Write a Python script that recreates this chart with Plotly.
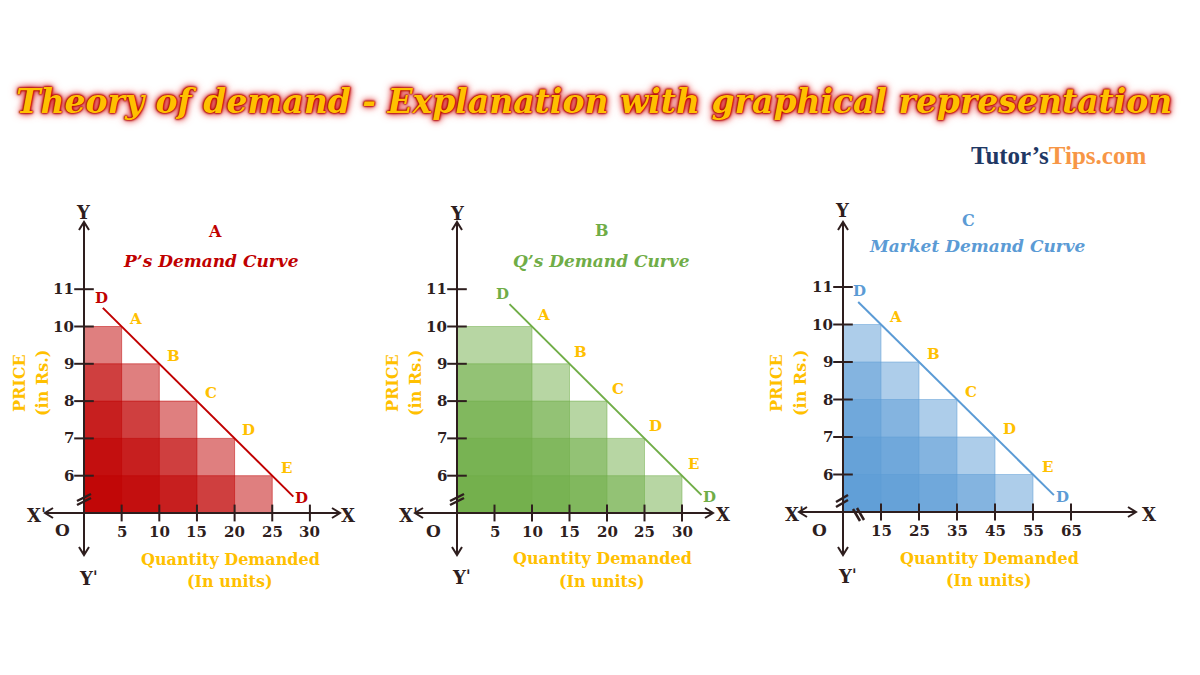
import plotly.graph_objects as go

W, H = 1200, 675

# ---------------- data ----------------
price = [10, 9, 8, 7, 6]
qty_p = [5, 10, 15, 20, 25]
qty_q = [10, 15, 20, 25, 30]
qty_market = [15, 25, 35, 45, 55]
point_labels = ["A", "B", "C", "D", "E"]
y_ticks = [6, 7, 8, 9, 10, 11]
x_ticks_p = [5, 10, 15, 20, 25, 30]
x_ticks_q = [5, 10, 15, 20, 25, 30]
x_ticks_m = [15, 25, 35, 45, 55, 65]
line_p_x = [2.5, 27.8]
line_p_y = [10.5, 5.44]
line_q_x = [7.0, 32.6]
line_q_y = [10.6, 5.48]
line_m_x = [9.0, 60.5]
line_m_y = [10.6, 5.45]
price_origin = 5
qty_origin_p = 0
qty_origin_q = 0
qty_origin_m = 5

DARK = "#2E1E1E"
GOLD = "#FFC000"
SERIF = "DejaVu Serif"

panels = [
    dict(qty=qty_p, xt=x_ticks_p, lx=line_p_x, ly=line_p_y, x0=qty_origin_p,
         color="#C00000", rgb=(192, 0, 0), letter="A", title="P’s Demand Curve",
         ox=84, oy=513, sx=7.53, sy=37.3, L=0, R=380,
         yaxis_px=(555, 222), xaxis_px=(45, 340),
         letter_px=(215, 232), title_px=(211, 261),
         price_px=(20, 383), inrs_px=(43, 383), qd_px=(230, 559), units_px=(230, 581),
         Y_px=(83, 212), Yp_px=(88, 578), Xp_px=(36, 515), X_px=(348, 515), O_px=(62, 530),
         lab_shift=(14, 8), d0_shift=(-1, 10), d1_shift=(8, -1),
         ybreak=[[(77, 501), (91, 494)], [(77, 505), (91, 498)]], xbreak=[]),
    dict(qty=qty_q, xt=x_ticks_q, lx=line_q_x, ly=line_q_y, x0=qty_origin_q,
         color="#70AD47", rgb=(112, 173, 71), letter="B", title="Q’s Demand Curve",
         ox=457, oy=513, sx=7.5, sy=37.3, L=380, R=760,
         yaxis_px=(555, 222), xaxis_px=(415, 713),
         letter_px=(602, 230), title_px=(601, 261),
         price_px=(393, 383), inrs_px=(416, 383), qd_px=(602, 558), units_px=(602, 581),
         Y_px=(457, 213), Yp_px=(461, 577), Xp_px=(408, 515), X_px=(723, 514), O_px=(433, 531),
         lab_shift=(11, 12), d0_shift=(-7, 10), d1_shift=(8, -2),
         ybreak=[[(450, 501), (464, 494)], [(450, 505), (464, 498)]], xbreak=[]),
    dict(qty=qty_market, xt=x_ticks_m, lx=line_m_x, ly=line_m_y, x0=qty_origin_m,
         color="#5B9BD5", rgb=(91, 155, 213), letter="C", title="Market Demand Curve",
         ox=843, oy=512, sx=3.8, sy=37.5, L=760, R=1200,
         yaxis_px=(555, 222), xaxis_px=(799, 1136),
         letter_px=(968, 220), title_px=(977, 246),
         price_px=(777, 383), inrs_px=(801, 383), qd_px=(989, 558), units_px=(989, 580),
         Y_px=(842, 210), Yp_px=(847, 576), Xp_px=(794, 514), X_px=(1149, 514), O_px=(819, 530),
         lab_shift=(14, 8), d0_shift=(1, 11), d1_shift=(9, -2),
         ybreak=[[(836, 502), (848, 495)], [(836, 507), (848, 500)]],
         xbreak=[[(853, 509), (860, 521)], [(857, 508), (864, 520)]]),
]

fig = go.Figure()
annotations = []


def font(size, color, bold=True, italic=False, family=SERIF):
    return dict(family=family, size=size, color=color,
                weight="bold" if bold else "normal",
                style="italic" if italic else "normal")


def paper_text(txt, px, size, color, italic=False, angle=0):
    annotations.append(dict(xref="paper", yref="paper", x=px[0] / W, y=1 - px[1] / H,
                            text=txt, showarrow=False, xanchor="center", yanchor="middle",
                            textangle=angle, font=font(size, color, italic=italic)))


for i, pn in enumerate(panels, start=1):
    xa = "x" if i == 1 else f"x{i}"
    ya = "y" if i == 1 else f"y{i}"

    def to_data(px, pn=pn):
        return (pn["x0"] + (px[0] - pn["ox"]) / pn["sx"],
                price_origin + (pn["oy"] - px[1]) / pn["sy"])

    T, B = 180, 610
    xr = [pn["x0"] + (pn["L"] - pn["ox"]) / pn["sx"], pn["x0"] + (pn["R"] - pn["ox"]) / pn["sx"]]
    yr = [price_origin - (B - pn["oy"]) / pn["sy"], price_origin + (pn["oy"] - T) / pn["sy"]]
    axis_key = "xaxis" if i == 1 else f"xaxis{i}"
    yaxis_key = "yaxis" if i == 1 else f"yaxis{i}"
    fig.layout[axis_key] = dict(domain=[pn["L"] / W, pn["R"] / W], range=xr, visible=False,
                                anchor=ya, fixedrange=True)
    fig.layout[yaxis_key] = dict(domain=[1 - B / H, 1 - T / H], range=yr, visible=False,
                                 anchor=xa, fixedrange=True)

    r, g, b = pn["rgb"]
    fill = f"rgba({r},{g},{b},0.5)"
    # stacked translucent rectangles (expenditure blocks)
    for q, p in zip(pn["qty"], price):
        fig.add_trace(go.Scatter(
            x=[pn["x0"], q, q, pn["x0"], pn["x0"]],
            y=[price_origin, price_origin, p, p, price_origin],
            fill="toself", fillcolor=fill, mode="lines",
            line=dict(color=fill, width=1), xaxis=xa, yaxis=ya,
            hoverinfo="skip", showlegend=False))

    # demand line
    fig.add_trace(go.Scatter(x=pn["lx"], y=pn["ly"], mode="lines",
                             line=dict(color=pn["color"], width=2),
                             xaxis=xa, yaxis=ya, showlegend=False, hoverinfo="skip"))

    # axes with chevron arrowheads
    ox, oy = pn["ox"], pn["oy"]
    ends = [((ox, pn["yaxis_px"][1]), (0, -1)), ((ox, pn["yaxis_px"][0]), (0, 1)),
            ((pn["xaxis_px"][0], oy), (-1, 0)), ((pn["xaxis_px"][1], oy), (1, 0))]
    axx, axy = [], []
    for (hx, hy), (dx, dy) in ends:
        for pt in [(ox, oy), (hx, hy)]:
            d = to_data(pt)
            axx.append(d[0]); axy.append(d[1])
        axx.append(None); axy.append(None)
        nx, ny = -dy, dx
        for pt in [(hx - 8 * dx + 5 * nx, hy - 8 * dy + 5 * ny), (hx, hy),
                   (hx - 8 * dx - 5 * nx, hy - 8 * dy - 5 * ny)]:
            d = to_data(pt)
            axx.append(d[0]); axy.append(d[1])
        axx.append(None); axy.append(None)
    fig.add_trace(go.Scatter(x=axx, y=axy, mode="lines", line=dict(color=DARK, width=2),
                             xaxis=xa, yaxis=ya, showlegend=False, hoverinfo="skip"))

    # tick marks
    fig.add_trace(go.Scatter(x=pn["xt"], y=[price_origin] * len(pn["xt"]), mode="markers",
                             marker=dict(symbol="line-ns", size=12,
                                         line=dict(color=DARK, width=2)),
                             xaxis=xa, yaxis=ya, showlegend=False, hoverinfo="skip"))
    fig.add_trace(go.Scatter(x=[pn["x0"]] * len(y_ticks), y=y_ticks, mode="markers",
                             marker=dict(symbol="line-ew", size=14,
                                         line=dict(color=DARK, width=2)),
                             xaxis=xa, yaxis=ya, showlegend=False, hoverinfo="skip"))
    # tick labels
    for t in pn["xt"]:
        annotations.append(dict(xref=xa, yref=ya, x=t, y=price_origin, yshift=-19,
                                text=str(t), showarrow=False, xanchor="center",
                                yanchor="middle", font=font(15, DARK)))
    for t in y_ticks:
        annotations.append(dict(xref=xa, yref=ya, x=pn["x0"], y=t, xshift=-8,
                                text=str(t), showarrow=False, xanchor="right",
                                yanchor="middle", font=font(15, DARK)))

    # break marks
    for seg in pn["ybreak"] + pn["xbreak"]:
        a, bpt = to_data(seg[0]), to_data(seg[1])
        fig.add_trace(go.Scatter(x=[a[0], bpt[0]], y=[a[1], bpt[1]], mode="lines",
                                 line=dict(color=DARK, width=2.5),
                                 xaxis=xa, yaxis=ya, showlegend=False, hoverinfo="skip"))

    # point labels
    for q, p, lab in zip(pn["qty"], price, point_labels):
        annotations.append(dict(xref=xa, yref=ya, x=q, y=p, xshift=pn["lab_shift"][0],
                                yshift=pn["lab_shift"][1], text=lab, showarrow=False,
                                font=font(15, GOLD)))
    annotations.append(dict(xref=xa, yref=ya, x=pn["lx"][0], y=pn["ly"][0],
                            xshift=pn["d0_shift"][0], yshift=pn["d0_shift"][1], text="D",
                            showarrow=False, font=font(15, pn["color"])))
    annotations.append(dict(xref=xa, yref=ya, x=pn["lx"][1], y=pn["ly"][1],
                            xshift=pn["d1_shift"][0], yshift=pn["d1_shift"][1], text="D",
                            showarrow=False, font=font(15, pn["color"])))

    # texts
    paper_text(pn["letter"], pn["letter_px"], 16, pn["color"])
    paper_text(pn["title"], pn["title_px"], 17, pn["color"], italic=True)
    paper_text("PRICE", pn["price_px"], 16, GOLD, angle=-90)
    paper_text("(in Rs.)", pn["inrs_px"], 16, GOLD, angle=-90)
    paper_text("Quantity Demanded", pn["qd_px"], 16, GOLD)
    paper_text("(In units)", pn["units_px"], 16, GOLD)
    paper_text("Y", pn["Y_px"], 18, DARK)
    paper_text("Y\u02C8", pn["Yp_px"], 18, DARK)
    paper_text("X\u02C8", pn["Xp_px"], 18, DARK)
    paper_text("X", pn["X_px"], 18, DARK)
    paper_text("O", pn["O_px"], 17, DARK)

# main title
annotations.append(dict(
    xref="paper", yref="paper", x=594 / W, y=1 - 101 / H, xanchor="center", yanchor="middle",
    text="Theory of demand - Explanation with graphical representation", showarrow=False,
    font=dict(family=SERIF, size=33, color=GOLD, weight="bold", style="italic",
              shadow="0 0 1px #B00000, 0 0 2px #B00000, 0 0 2px #B00000, 0 0 3px #B00000, "
                     "0 0 6px #D00000, 0 0 10px #E84040")))
annotations.append(dict(
    xref="paper", yref="paper", x=1058 / W, y=1 - 155 / H, xanchor="center", yanchor="middle",
    text="<span style='color:#1F3864'>Tutor’s</span><span style='color:#F79646'>Tips.com</span>",
    showarrow=False, font=dict(family="Liberation Serif", size=25, weight="bold")))

fig.update_layout(width=W, height=H, autosize=False, margin=dict(l=0, r=0, t=0, b=0),
                  paper_bgcolor="white", plot_bgcolor="rgba(0,0,0,0)",
                  annotations=annotations, showlegend=False)

fig.write_html("out.html")
